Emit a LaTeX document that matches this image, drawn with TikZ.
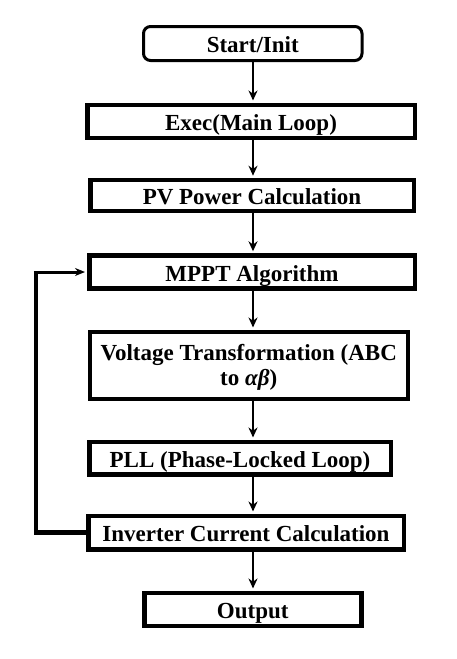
\documentclass[tikz,border=0pt]{standalone}
\usepackage{fontspec}
\setmainfont{Liberation Serif}
\usetikzlibrary{arrows.meta}
\begin{document}
\begin{tikzpicture}[x=1pt,y=-1pt,
  txt/.style={font=\bfseries\fontsize{23}{24.5}\selectfont},
  box/.style={draw, line width=4.5pt, inner sep=0pt, txt},
  onel/.style={text height=18.2pt, text depth=0pt},
  startbox/.style={draw, line width=3pt, rounded corners=7pt, inner sep=0pt, txt, onel},
  flow/.style={line width=2.3pt, shorten >=2pt, -{Stealth[length=10pt,width=9pt]}},
  backthick/.style={line width=4.5pt},
  back/.style={line width=3pt, shorten >=2pt, -{Stealth[length=10pt,width=8pt]}}]
\useasboundingbox (0,0) rectangle (456,659);
\coordinate (axis) at (253,0);
\node[startbox, minimum width=218.5pt, minimum height=34pt] (start) at (252.75,43.5) {Start/Init};
\node[box, onel, minimum width=327.5pt, minimum height=33pt] (exec) at (251,121.25) {Exec(Main Loop)};
\node[box, onel, minimum width=323.5pt, minimum height=31.1pt] (pv) at (252,195.5) {PV Power Calculation};
\node[box, onel, minimum width=325.5pt, minimum height=32.9pt] (mppt) at (252,272) {MPPT Algorithm};
\node[box, minimum width=318pt, minimum height=67pt] (volt) at (248.75,365.25) {\raisebox{-2.6pt}[\height][\depth]{\begin{tabular}{@{}c@{}}Voltage Transformation (ABC\\to \textit{αβ})\end{tabular}}};
\node[box, onel, minimum width=301.5pt, minimum height=32.5pt] (pll) at (240,458) {PLL (Phase-Locked Loop)};
\node[box, onel, minimum width=315.5pt, minimum height=33.5pt] (inv) at (246,532.5) {Inverter Current Calculation};
\node[box, onel, minimum width=217pt, minimum height=33.3pt] (out) at (252.75,609.4) {Output};
\draw[flow] (start.south -| axis) -- (exec.north -| axis);
\draw[flow] (exec.south -| axis) -- (pv.north -| axis);
\draw[flow] (pv.south -| axis) -- (mppt.north -| axis);
\draw[flow] (mppt.south -| axis) -- (volt.north -| axis);
\draw[flow] (volt.south -| axis) -- (pll.north -| axis);
\draw[flow] (pll.south -| axis) -- (inv.north -| axis);
\draw[flow] (inv.south -| axis) -- (out.north -| axis);
\coordinate (lft) at (36,0);
\coordinate (lftedge) at (33.75,0);
\draw[backthick] (inv.west) -- (inv.west -| lft) -- (mppt.west -| lft);
\draw[back] (mppt.west -| lftedge) -- (mppt.west);
\end{tikzpicture}
\end{document}
